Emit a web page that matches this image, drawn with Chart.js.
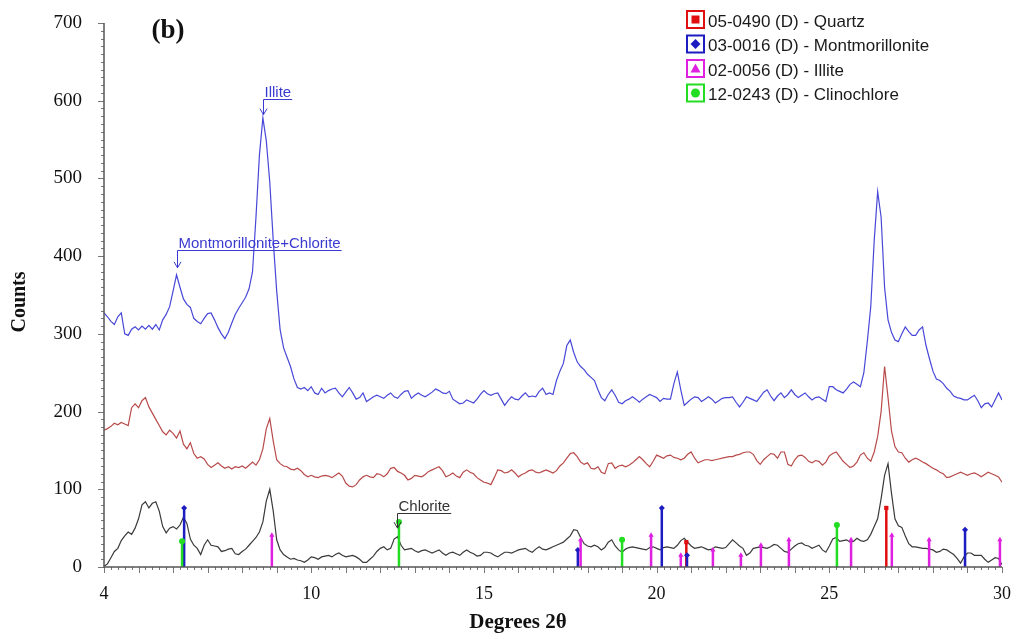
<!DOCTYPE html>
<html>
<head>
<meta charset="utf-8">
<title>XRD pattern (b)</title>
<script src="https://cdn.jsdelivr.net/npm/chart.js@4.4.1/dist/chart.umd.min.js"></script>
<style>
  html, body { margin: 0; padding: 0; background: #fff; }
  #wrap { width: 1018px; height: 639px; }
</style>
</head>
<body>
<div id="wrap"><canvas id="xrd" width="1018" height="639"></canvas></div>
<script>
// 2-theta grid: 4.0 .. 30.0 deg, 0.1 deg per step (one row per degree below)
var START_2THETA = 4.0;
var STEP_2THETA = 0.1;

var blueCounts = [
  327, 322, 316, 312, 322, 327, 300, 298, 306, 309,
  305, 310, 306, 311, 306, 312, 305, 318, 325, 335,
  355, 376, 360, 345, 338, 334, 320, 316, 313, 320,
  326, 327, 318, 308, 300, 294, 302, 314, 325, 333,
  340, 347, 358, 380, 450, 530, 578, 548, 495, 420,
  355, 305, 282, 270, 258, 242, 231, 229, 231, 227,
  232, 224, 222, 230, 224, 227, 229, 230, 224, 219,
  225, 231, 224, 216, 218, 224, 213, 216, 219, 221,
  219, 217, 221, 224, 219, 217, 222, 226, 227, 217,
  221, 224, 221, 219, 222, 225, 229, 227, 224, 223,
  226, 216, 213, 210, 211, 215, 213, 211, 216, 222,
  227, 223, 221, 223, 224, 216, 208, 214, 219, 216,
  215, 220, 224, 219, 220, 219, 226, 230, 222, 224,
  222, 240, 252, 262, 285, 292, 276, 264, 258, 254,
  248, 244, 240, 228, 218, 214, 222, 228, 221, 212,
  210, 214, 216, 219, 216, 212, 216, 219, 222, 220,
  218, 213, 217, 216, 216, 236, 251, 228, 208, 212,
  216, 219, 218, 213, 216, 219, 216, 211, 214, 217,
  218, 218, 219, 212, 206, 212, 219, 217, 215, 213,
  219, 225, 228, 220, 214, 220, 224, 218, 222, 228,
  222, 218, 221, 224, 219, 215, 218, 219, 216, 213,
  232, 232, 228, 226, 224, 229, 235, 238, 235, 232,
  250, 290, 335, 420, 483, 450, 360, 318, 302, 292,
  290, 300, 309, 303, 298, 298, 305, 309, 285, 268,
  252, 242, 240, 236, 230, 226, 220, 218, 217, 215,
  215, 218, 221, 214, 205, 210, 211, 206, 215, 224,
  215
];

var redCounts = [
  176, 178, 181, 185, 183, 186, 184, 182, 205, 210,
  205, 214, 218, 206, 198, 190, 182, 174, 170, 176,
  172, 166, 175, 158, 152, 160, 146, 140, 142, 139,
  132, 128, 131, 134, 130, 127, 129, 126, 129, 128,
  130, 127, 131, 135, 131, 138, 152, 178, 191, 162,
  138, 133, 130, 129, 126, 125, 127, 124, 119, 116,
  118, 116, 115, 117, 118, 117, 115, 118, 121, 117,
  108, 104, 103, 106, 112, 116, 118, 116, 115, 120,
  119, 116, 120, 127, 128, 123, 121, 118, 112, 114,
  118, 117, 116, 119, 123, 125, 127, 129, 124, 116,
  118, 121, 117, 115, 122, 125, 122, 120, 115, 112,
  109, 108, 106, 115, 125, 124, 121, 122, 125, 121,
  116, 119, 121, 124, 125, 122, 121, 123, 125, 123,
  121, 124, 130, 134, 140, 146, 147, 142, 135, 132,
  134, 127, 126, 129, 122, 120, 133, 134, 127, 130,
  131, 129, 131, 134, 138, 142, 138, 133, 129, 136,
  144, 142, 140, 143, 144, 141, 140, 138, 140, 145,
  148, 140, 134, 136, 138, 138, 137, 138, 139, 140,
  141, 142, 142, 144, 145, 147, 148, 148, 145, 137,
  132, 138, 142, 146, 145, 140, 148, 148, 132, 130,
  138, 143, 144, 141, 136, 134, 137, 136, 131, 135,
  143, 146, 148, 142, 136, 132, 128, 130, 135, 144,
  147, 140, 136, 148, 168, 200, 258, 218, 175, 155,
  148, 147, 140, 135, 138, 140, 138, 135, 133, 130,
  127, 125, 122, 120, 115, 116, 118, 120, 122, 120,
  118, 120, 121, 119, 116, 119, 122, 120, 118, 116,
  109
];

var blackCounts = [
  1, 4, 12, 20, 24, 34, 40, 45, 42, 50,
  62, 80, 84, 76, 82, 84, 72, 52, 44, 50,
  52, 49, 54, 64, 56, 36, 28, 24, 16, 28,
  35, 28, 27, 26, 20, 21, 23, 24, 17, 16,
  20, 23, 28, 33, 38, 45, 58, 85, 100, 72,
  35, 22, 16, 13, 10, 11, 9, 8, 6, 9,
  13, 12, 10, 13, 14, 15, 13, 16, 18, 15,
  13, 14, 15, 13, 10, 6, 6, 10, 14, 20,
  24, 26, 22, 24, 36, 39, 28, 22, 23, 24,
  21, 19, 21, 22, 20, 18, 20, 22, 18, 15,
  18, 19, 17, 15, 19, 22, 19, 17, 14, 15,
  19, 19, 18, 15, 13, 16, 19, 19, 18, 20,
  22, 23, 24, 21, 19, 23, 26, 23, 22, 24,
  26, 28, 30, 32, 36, 40, 48, 47, 38, 30,
  27, 26, 28, 26, 22, 25, 32, 35, 27, 22,
  19, 23, 25, 26, 25, 24, 23, 22, 25, 26,
  24, 22, 25, 26, 25, 24, 28, 34, 37, 32,
  27, 24, 25, 26, 24, 22, 23, 26, 25, 24,
  25, 30, 35, 31, 27, 24, 15, 18, 24, 25,
  26, 25, 24, 26, 29, 28, 24, 20, 19, 23,
  27, 30, 31, 28, 27, 24, 26, 28, 22, 19,
  27, 36, 38, 33, 34, 35, 32, 33, 37, 34,
  33, 35, 42, 52, 62, 88, 118, 133, 95, 62,
  53, 51, 40, 30, 26, 26, 25, 24, 24, 23,
  22, 19, 20, 23, 22, 19, 16, 11, 5, 13,
  18, 18, 15, 15, 15, 10, 6, 9, 12, 11,
  3
];

// reference pattern sticks (position in deg 2-theta, relative height in counts)
var quartzPos = [20.86, 26.65];
var quartzInt = [32, 76];
var montPos = [6.32, 17.72, 20.15, 20.88, 28.93];
var montInt = [76, 22, 76, 15, 48];
var illitePos = [8.86, 17.80, 19.84, 20.70, 21.63, 22.44, 23.02, 23.83, 25.63, 26.81, 27.89, 29.94];
var illiteInt = [41, 35, 41, 15, 22, 15, 28, 35, 35, 41, 35, 35];
var chlorPos = [6.26, 12.54, 19.00, 25.22];
var chlorInt = [33, 58, 35, 54];

var phaseNames = ["05-0490 (D) - Quartz", "03-0016 (D) - Montmorillonite", "02-0056 (D) - Illite", "12-0243 (D) - Clinochlore"];

// peak labels: text, x of arrow, count at arrow tip, count at underline
var annotText = ["Illite", "Montmorillonite+Chlorite", "Chlorite"];
var annotX = [8.60, 6.11, 12.49];
var annotTip = [582, 385, 50];
var annotLine = [602, 408, 69];

var xTickLabels = [4, 10, 15, 20, 25, 30];
var yTickLabels = [0, 100, 200, 300, 400, 500, 600, 700];

var SERIF = '"Liberation Serif", "DejaVu Serif", serif';
var SANS = '"Liberation Sans", Arial, sans-serif';

var PHASE_COLORS = ["#e01010", "#1c1cc0", "#e020e0", "#22dd22"];
var PHASE_MARKERS = ["rect", "rectRot", "triangle", "circle"];

function toPoints(values) {
  var pts = [];
  for (var i = 0, len = values.length; i < len; i++) {
    pts.push({ x: +(START_2THETA + i * STEP_2THETA).toFixed(1), y: values[i] });
  }
  return pts;
}

function stickPoints(pos, ints) {
  var pts = [];
  for (var i = 0; i < pos.length; i++) {
    pts.push({ x: pos[i], y: 0 });
    pts.push({ x: pos[i], y: ints[i] });
    pts.push({ x: pos[i], y: null });
  }
  return pts;
}

function traceDataset(values, color) {
  return {
    data: toPoints(values),
    borderColor: color,
    borderWidth: 1.2,
    pointRadius: 0,
    tension: 0,
    order: 2
  };
}

function stickDataset(pos, ints, k) {
  return {
    data: stickPoints(pos, ints),
    borderColor: PHASE_COLORS[k],
    backgroundColor: PHASE_COLORS[k],
    borderWidth: 2.5,
    spanGaps: false,
    pointStyle: PHASE_MARKERS[k],
    pointRadius: function (c) { return c.dataIndex % 3 === 1 ? 3 : 0; },
    pointBorderWidth: 0,
    order: 1
  };
}

function drawMarker(ctx, style, cx, cy, r, color) {
  ctx.fillStyle = color;
  ctx.beginPath();
  if (style === "rect") {
    ctx.rect(cx - r, cy - r, 2 * r, 2 * r);
  } else if (style === "rectRot") {
    ctx.moveTo(cx, cy - r - 1); ctx.lineTo(cx + r + 1, cy);
    ctx.lineTo(cx, cy + r + 1); ctx.lineTo(cx - r - 1, cy);
    ctx.closePath();
  } else if (style === "triangle") {
    ctx.moveTo(cx, cy - r - 1); ctx.lineTo(cx + r + 1, cy + r);
    ctx.lineTo(cx - r - 1, cy + r);
    ctx.closePath();
  } else {
    ctx.arc(cx, cy, r + 0.5, 0, Math.PI * 2);
  }
  ctx.fill();
}

// axes, minor ticks, titles, peak labels and the phase legend
var decor = {
  id: "decor",
  afterDraw: function (chart) {
    var ctx = chart.ctx;
    var xs = chart.scales.x, ys = chart.scales.y;
    var area = chart.chartArea;
    var i, v, x, y, len;

    ctx.save();

    // tick marks
    ctx.strokeStyle = "#777";
    ctx.lineWidth = 1;
    ctx.beginPath();
    for (v = yTickLabels[0]; v <= yTickLabels[yTickLabels.length - 1]; v += 10) {
      y = Math.round(ys.getPixelForValue(v)) + 0.5;
      len = (v % 100 === 0) ? 6 : 3;
      ctx.moveTo(area.left - len, y);
      ctx.lineTo(area.left, y);
    }
    for (i = 0; i <= 130; i++) {
      x = Math.round(xs.getPixelForValue(4 + i * 0.2)) + 0.5;
      len = (i % 5 === 0) ? 6 : 3;
      ctx.moveTo(x, area.bottom);
      ctx.lineTo(x, area.bottom + len);
    }
    ctx.stroke();

    // axis lines
    ctx.strokeStyle = "#555";
    ctx.lineWidth = 1.5;
    ctx.beginPath();
    ctx.moveTo(area.left, area.top);
    ctx.lineTo(area.left, area.bottom);
    ctx.lineTo(area.right, area.bottom);
    ctx.stroke();

    // axis titles and panel letter
    ctx.fillStyle = "#111";
    ctx.textAlign = "center";
    ctx.textBaseline = "middle";
    ctx.font = "bold 21px " + SERIF;
    ctx.fillText("Degrees 2\u03b8", 518, 623);
    ctx.save();
    ctx.translate(20, 302);
    ctx.rotate(-Math.PI / 2);
    ctx.font = "bold 20px " + SERIF;
    ctx.fillText("Counts", 0, 0);
    ctx.restore();
    ctx.font = "bold 27px " + SERIF;
    ctx.fillText("(b)", 168, 31);

    // peak labels with underline + arrow
    ctx.font = "15px " + SANS;
    ctx.textAlign = "left";
    ctx.textBaseline = "alphabetic";
    for (i = 0; i < annotText.length; i++) {
      var col = (i === 2) ? "#333" : "#3a3ad0";
      var ax = Math.round(xs.getPixelForValue(annotX[i])) + 0.5;
      var ly = Math.round(ys.getPixelForValue(annotLine[i])) + 0.5;
      var ty = ys.getPixelForValue(annotTip[i]);
      var w = ctx.measureText(annotText[i]).width;
      ctx.fillStyle = col;
      ctx.strokeStyle = col;
      ctx.lineWidth = 1;
      ctx.fillText(annotText[i], ax + 1, ly - 3);
      ctx.beginPath();
      ctx.moveTo(ax, ly);
      ctx.lineTo(ax + w + 2, ly);
      ctx.moveTo(ax, ly);
      ctx.lineTo(ax, ty);
      ctx.moveTo(ax - 3.5, ty - 6);
      ctx.lineTo(ax, ty);
      ctx.lineTo(ax + 3.5, ty - 6);
      ctx.stroke();
    }

    // legend
    ctx.font = "17px " + SANS;
    ctx.textBaseline = "middle";
    for (i = 0; i < phaseNames.length; i++) {
      var top = 10 + i * 24.5;
      ctx.strokeStyle = PHASE_COLORS[i];
      ctx.lineWidth = 2;
      ctx.strokeRect(687, top + 1, 17, 17);
      drawMarker(ctx, PHASE_MARKERS[i], 695.5, top + 9.5, 4, PHASE_COLORS[i]);
      ctx.fillStyle = "#1a1a1a";
      ctx.fillText(phaseNames[i], 708, top + 12);
    }

    ctx.restore();
  }
};

new Chart(document.getElementById("xrd"), {
  type: "line",
  data: {
    datasets: [
      traceDataset(blueCounts, "#4848d8"),
      traceDataset(redCounts, "#b84a4a"),
      traceDataset(blackCounts, "#3a3a3a"),
      stickDataset(chlorPos, chlorInt, 3),
      stickDataset(illitePos, illiteInt, 2),
      stickDataset(montPos, montInt, 1),
      stickDataset(quartzPos, quartzInt, 0)
    ]
  },
  options: {
    responsive: false,
    animation: false,
    events: [],
    layout: { padding: { top: 23, right: 16, left: 0, bottom: 0 } },
    plugins: { legend: { display: false }, tooltip: { enabled: false } },
    scales: {
      x: {
        type: "linear",
        min: 4,
        max: 30,
        offset: false,
        grid: { display: false, drawTicks: false },
        border: { display: false },
        afterBuildTicks: function (s) {
          s.ticks = xTickLabels.map(function (v) { return { value: v }; });
        },
        afterFit: function (s) {
          s.height = 72;
          s.paddingLeft = 0;
          s.paddingRight = 0;
        },
        ticks: {
          autoSkip: false,
          maxRotation: 0,
          padding: 16,
          color: "#111",
          font: { family: SERIF, size: 18 },
          callback: function (v) { return String(v); }
        }
      },
      y: {
        min: 0,
        max: 700,
        grid: { display: false, drawTicks: false },
        border: { display: false },
        afterBuildTicks: function (s) {
          s.ticks = yTickLabels.map(function (v) { return { value: v }; });
        },
        afterFit: function (s) {
          s.width = 104;
          s.paddingTop = 0;
          s.paddingBottom = 0;
        },
        ticks: {
          padding: 22,
          color: "#111",
          font: { family: SERIF, size: 19 },
          callback: function (v) { return String(v); }
        }
      }
    }
  },
  plugins: [decor]
});
</script>
</body>
</html>
